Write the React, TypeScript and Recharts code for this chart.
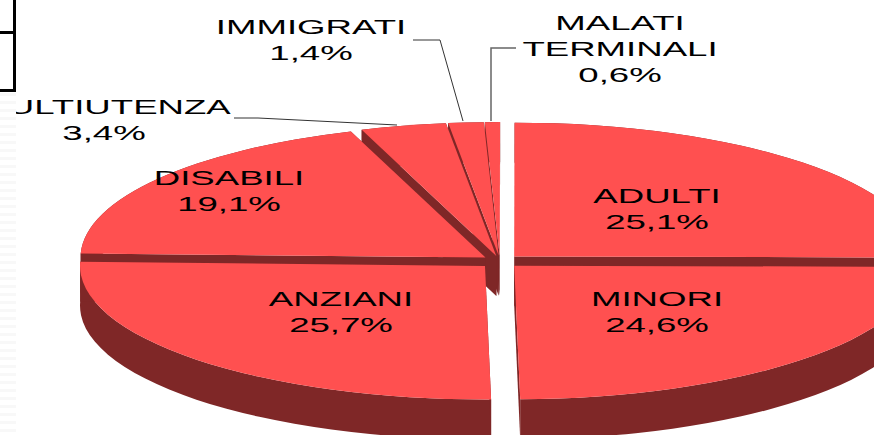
import { Pie, PieChart } from "recharts";

// order is anticlockwise from the right edge, so nearer slices paint over further ones
const names = ["ADULTI", "MALATI TERMINALI", "IMMIGRATI", "MULTIUTENZA", "DISABILI", "ANZIANI", "MINORI"];
const values = [25.1, 0.6, 1.4, 3.4, 19.1, 25.7, 24.6];
const explode = [20, 16, 16, 16, 18, 21, 20];

const labelLines = [["ADULTI"], ["MALATI", "TERMINALI"], ["IMMIGRATI"], ["MULTIUTENZA"], ["DISABILI"], ["ANZIANI"], ["MINORI"]];
const labelX = [657, 620, 311, 104, 229, 341, 657];
const labelY = [203, 30, 34, 114, 185, 306, 306];
const leaders = ["", "516,48 491,48 491,121", "413,40 440,40 463,121", "234,118 258,118 397,125", "", "", ""];

const data = names.map((name, i) => ({ name, value: values[i] }));

const SQUASH = 0.33;
const DEPTH = 40;
const FACE = "#ff5050";
const WALL = "#7f2727";
const RAD = Math.PI / 180;

function TiltedSlice(props: any) {
  const { cx, cy, outerRadius: rx, startAngle, endAngle, index } = props;
  const ry = rx * SQUASH;
  const mid = ((startAngle + endAngle) / 2) * RAD;
  const ox = cx + explode[index] * Math.cos(mid);
  const oy = cy - explode[index] * Math.sin(mid) * SQUASH;
  const pt = (deg: number, drop = 0) => {
    const x = ox + rx * Math.cos(deg * RAD);
    const y = oy - ry * Math.sin(deg * RAD) + drop;
    return `${x.toFixed(1)} ${y.toFixed(1)}`;
  };
  const large = endAngle - startAngle > 180 ? 1 : 0;
  const rim = `M${pt(startAngle)} A${rx} ${ry} 0 ${large} 0 ${pt(endAngle)} L${pt(endAngle, DEPTH)} A${rx} ${ry} 0 ${large} 1 ${pt(startAngle, DEPTH)} Z`;
  const apex = `${ox.toFixed(1)} ${oy.toFixed(1)}`;
  const apexLow = `${ox.toFixed(1)} ${(oy + DEPTH).toFixed(1)}`;
  return (
    <g>
      <path d={rim} fill={WALL} />
      <path d={`M${apex} L${pt(startAngle)} L${pt(startAngle, DEPTH)} L${apexLow} Z`} fill={WALL} />
      <path d={`M${apex} L${pt(endAngle)} L${pt(endAngle, DEPTH)} L${apexLow} Z`} fill={WALL} />
      <path d={`M${apex} L${pt(startAngle)} A${rx} ${ry} 0 ${large} 0 ${pt(endAngle)} Z`} fill={FACE} />
    </g>
  );
}

function SliceLabel(props: any) {
  const { index, value } = props;
  const rows = [...labelLines[index], `${value.toFixed(1).replace(".", ",")}%`];
  return (
    <g>
      {leaders[index] && <polyline points={leaders[index]} fill="none" stroke={index === 1 ? "#666" : "#333"} strokeWidth={index === 1 ? 1.5 : 1} />}
      <text
        transform={`translate(${labelX[index]} ${labelY[index]}) scale(1.83 1)`}
        textAnchor="middle"
        fontFamily="Liberation Sans"
        fontSize={20}
        fill="#000"
      >
        {rows.map((row, i) => (
          <tspan key={row} x={0} dy={i === 0 ? 0 : 26}>
            {row}
          </tspan>
        ))}
      </text>
    </g>
  );
}

export default function App() {
  return (
    <div style={{ position: "absolute", left: 0, top: 0, width: 874, height: 435, overflow: "hidden", background: "#fff" }}>
      <PieChart width={874} height={435} margin={{ top: 0, right: 0, bottom: 0, left: 0 }}>
        <Pie
          data={data}
          dataKey="value"
          nameKey="name"
          cx={500}
          cy={261}
          outerRadius={405}
          startAngle={-0.5}
          endAngle={359.5}
          stroke="none"
          shape={TiltedSlice}
          label={SliceLabel}
          labelLine={false}
          isAnimationActive={false}
        />
      </PieChart>
      {/* slide strip along the left edge cuts the label off, same as the reference */}
      <div style={{ position: "absolute", left: 0, top: 0, width: 16, height: 435, background: "repeating-linear-gradient(#fff 0 5px, #f8f8f8 5px 8px)" }} />
      <div style={{ position: "absolute", left: 0, top: 0, width: 16, height: 92, boxSizing: "border-box", background: "#fff", borderRight: "3px solid #000", borderBottom: "3px solid #000" }} />
      <div style={{ position: "absolute", left: 0, top: 31, width: 16, height: 3, background: "#000" }} />
    </div>
  );
}
